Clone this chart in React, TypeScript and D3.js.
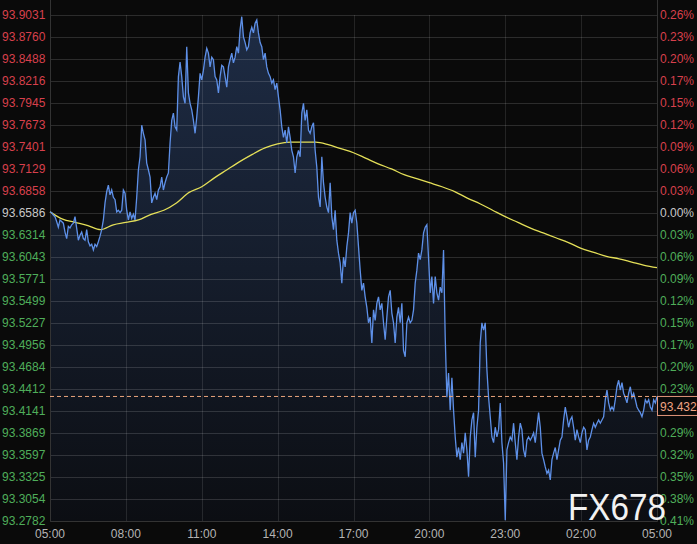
import React, { useEffect, useRef } from "react";
import * as d3 from "d3";

// session start, the chart covers 24 hours from here
const startTime = new Date(2021, 5, 1, 5, 0);

const timeLabels = ["05:00", "08:00", "11:00", "14:00", "17:00", "20:00", "23:00", "02:00", "05:00"];

const priceTicks = [
  "93.9031", "93.8760", "93.8488", "93.8216", "93.7945", "93.7673", "93.7401", "93.7129",
  "93.6858", "93.6586", "93.6314", "93.6043", "93.5771", "93.5499", "93.5227", "93.4956",
  "93.4684", "93.4412", "93.4141", "93.3869", "93.3597", "93.3325", "93.3054", "93.2782",
];

const pctTicks = [
  "0.26%", "0.23%", "0.20%", "0.17%", "0.15%", "0.12%", "0.09%", "0.06%",
  "0.03%", "0.00%", "0.03%", "0.06%", "0.09%", "0.12%", "0.15%", "0.17%",
  "0.20%", "0.23%", "0.26%", "0.29%", "0.32%", "0.35%", "0.38%", "0.41%",
];

const basePrice = 93.6586;
const lastPrice = 93.432;

// price, sampled evenly across the session
const prices = [
  93.660, 93.659, 93.656, 93.654, 93.648, 93.641, 93.650, 93.648, 93.646, 93.635,
  93.627, 93.642, 93.640, 93.644, 93.646, 93.654, 93.640, 93.625, 93.631, 93.635,
  93.627, 93.625, 93.638, 93.623, 93.618, 93.620, 93.613, 93.620, 93.617, 93.623,
  93.630, 93.638, 93.650, 93.671, 93.685, 93.693, 93.681, 93.687, 93.678, 93.675,
  93.660, 93.662, 93.659, 93.662, 93.687, 93.683, 93.662, 93.650, 93.660, 93.652,
  93.657, 93.650, 93.678, 93.712, 93.728, 93.767, 93.757, 93.749, 93.720, 93.712,
  93.703, 93.671, 93.678, 93.683, 93.675, 93.687, 93.691, 93.703, 93.687, 93.696,
  93.703, 93.708,
  93.745, 93.773, 93.782, 93.765, 93.761, 93.827, 93.845, 93.827, 93.802, 93.794,
  93.864, 93.807, 93.794, 93.786, 93.773, 93.757, 93.777, 93.802, 93.831, 93.823,
  93.835, 93.851, 93.862, 93.856, 93.839, 93.851, 93.848, 93.827, 93.823, 93.807,
  93.827, 93.841, 93.839, 93.827, 93.814, 93.839, 93.848, 93.856, 93.844, 93.851,
  93.864, 93.856, 93.885, 93.901, 93.876, 93.869, 93.860, 93.864, 93.881, 93.888,
  93.881, 93.893, 93.897, 93.881, 93.869, 93.864, 93.848, 93.856, 93.839, 93.831,
  93.827, 93.819, 93.823, 93.811, 93.819, 93.802, 93.786, 93.765, 93.752, 93.761,
  93.745, 93.765, 93.752,
  93.736, 93.728, 93.708, 93.728, 93.736, 93.728, 93.782, 93.794, 93.773, 93.786,
  93.761, 93.757, 93.765, 93.770, 93.736, 93.715, 93.678, 93.666, 93.728, 93.696,
  93.678, 93.666, 93.659, 93.696, 93.654, 93.638, 93.662, 93.625, 93.609, 93.597,
  93.572, 93.604, 93.592, 93.617, 93.634, 93.659, 93.646, 93.659, 93.662, 93.646,
  93.617, 93.588, 93.563, 93.572, 93.555, 93.542, 93.523, 93.530, 93.498, 93.539,
  93.526, 93.547, 93.555, 93.539, 93.547, 93.523, 93.502, 93.530, 93.555, 93.563,
  93.535, 93.523, 93.498, 93.530, 93.542, 93.523, 93.547, 93.489, 93.481, 93.523,
  93.530, 93.523,
  93.526, 93.539, 93.572, 93.588, 93.609, 93.601, 93.613, 93.634, 93.641, 93.644,
  93.603, 93.560, 93.580, 93.547, 93.580, 93.560, 93.551, 93.567, 93.560, 93.613,
  93.505, 93.431, 93.461, 93.415, 93.455, 93.415, 93.382, 93.357, 93.369, 93.354,
  93.375, 93.362, 93.387, 93.366, 93.333, 93.382, 93.403, 93.412, 93.357, 93.394,
  93.415, 93.498, 93.523, 93.514, 93.523, 93.465, 93.431, 93.407, 93.382, 93.375,
  93.394, 93.382, 93.391, 93.424, 93.375, 93.350, 93.279, 93.366, 93.375, 93.382,
  93.378, 93.399, 93.375, 93.354, 93.382, 93.399, 93.391, 93.366, 93.357, 93.378,
  93.382,
  93.378, 93.382, 93.387, 93.375, 93.394, 93.412, 93.394, 93.362, 93.354, 93.345,
  93.337, 93.341, 93.329, 93.354, 93.362, 93.369, 93.354, 93.366, 93.378, 93.382,
  93.403, 93.419, 93.407, 93.394, 93.403, 93.407, 93.394, 93.378, 93.391, 93.382,
  93.375, 93.387, 93.394, 93.391, 93.366, 93.378, 93.382, 93.391, 93.399, 93.394,
  93.399, 93.403, 93.399, 93.403, 93.407, 93.428, 93.440, 93.424, 93.415, 93.419,
  93.415, 93.428, 93.444, 93.452, 93.440, 93.449, 93.436, 93.431, 93.424, 93.436,
  93.444, 93.431, 93.436, 93.428, 93.419, 93.415, 93.412, 93.407, 93.415, 93.428,
  93.424, 93.428, 93.419, 93.415, 93.428, 93.424, 93.432,
];

// moving average, one value every 30 minutes
const movingAvg = [
  93.660, 93.651, 93.647, 93.643, 93.638, 93.644, 93.647, 93.650, 93.657, 93.662,
  93.671, 93.684, 93.691, 93.702, 93.712, 93.722, 93.731, 93.739, 93.744, 93.746,
  93.746, 93.746, 93.743, 93.738, 93.733, 93.726, 93.719, 93.713, 93.706, 93.701,
  93.696, 93.691, 93.685, 93.677, 93.670, 93.662, 93.654, 93.647, 93.640, 93.634,
  93.628, 93.622, 93.615, 93.610, 93.605, 93.602, 93.598, 93.594, 93.591,
];

const W = 697;
const H = 544;
const plot = { left: 50, right: 657, top: 15, bottom: 521 };
const FONT = "'Liberation Sans', Arial, sans-serif";
const TAG_H = 19;

const PriceChart = () => {
  const ref = useRef<SVGSVGElement>(null);

  useEffect(() => {
    const svg = d3.select(ref.current);
    svg.selectAll("*").remove();

    const endTime = d3.timeHour.offset(startTime, 24);
    const x = d3.scaleTime().domain([startTime, endTime]).range([plot.left, plot.right]);
    const y = d3
      .scaleLinear()
      .domain([+priceTicks[priceTicks.length - 1], +priceTicks[0]])
      .range([plot.bottom, plot.top]);

    const step = (24 * 60) / (prices.length - 1);
    const pts = prices.map((v, i) => ({ t: new Date(startTime.getTime() + i * step * 60000), v }));
    const maPts = movingAvg.map((v, i) => ({ t: d3.timeMinute.offset(startTime, i * 30), v }));

    svg.append("rect").attr("width", W).attr("height", H).attr("fill", "#0a0a0a");

    const grad = svg
      .append("defs")
      .append("linearGradient")
      .attr("id", "areaFill")
      .attr("gradientUnits", "userSpaceOnUse")
      .attr("x1", 0)
      .attr("y1", plot.top)
      .attr("x2", 0)
      .attr("y2", plot.bottom);
    grad.append("stop").attr("offset", 0).attr("stop-color", "#1e2c45");
    grad.append("stop").attr("offset", 1).attr("stop-color", "#0c0e13");

    // area under the price
    const area = d3
      .area<{ t: Date; v: number }>()
      .x((d) => x(d.t))
      .y0(plot.bottom)
      .y1((d) => y(d.v));
    svg.append("path").datum(pts).attr("d", area).attr("fill", "url(#areaFill)");

    // grid
    svg
      .append("g")
      .selectAll("line")
      .data(priceTicks)
      .enter()
      .append("line")
      .attr("x1", plot.left)
      .attr("x2", plot.right)
      .attr("y1", (d) => Math.round(y(+d)) + 0.5)
      .attr("y2", (d) => Math.round(y(+d)) + 0.5)
      .attr("stroke", "rgba(255,255,255,0.14)");

    const hourTicks = timeLabels.map((_, i) => d3.timeHour.offset(startTime, i * 3));
    svg
      .append("g")
      .selectAll("line")
      .data(hourTicks)
      .enter()
      .append("line")
      .attr("x1", (d) => Math.round(x(d)) + 0.5)
      .attr("x2", (d) => Math.round(x(d)) + 0.5)
      .attr("y1", plot.top)
      .attr("y2", plot.bottom)
      .attr("stroke", "rgba(255,255,255,0.11)");

    svg
      .append("path")
      .attr("d", `M${plot.left + 0.5},0V${plot.bottom + 0.5}H${plot.right + 0.5}V0`)
      .attr("fill", "none")
      .attr("stroke", "#333");

    // moving average + price
    const line = d3
      .line<{ t: Date; v: number }>()
      .x((d) => x(d.t))
      .y((d) => y(d.v));
    svg
      .append("path")
      .datum(maPts)
      .attr("d", line.curve(d3.curveMonotoneX))
      .attr("fill", "none")
      .attr("stroke", "#e4df58")
      .attr("stroke-width", 1.3);
    svg
      .append("path")
      .datum(pts)
      .attr("d", line.curve(d3.curveLinear))
      .attr("fill", "none")
      .attr("stroke", "#5e90e8")
      .attr("stroke-width", 1.3);

    // last price
    const tagY = y(lastPrice);
    svg
      .append("line")
      .attr("x1", plot.left)
      .attr("x2", plot.right)
      .attr("y1", tagY)
      .attr("y2", tagY)
      .attr("stroke", "#eaa47c")
      .attr("stroke-dasharray", "4,3");

    const tickColor = (v: number) =>
      Math.abs(v - basePrice) < 1e-6 ? "#c8c8c8" : v > basePrice ? "#d8404c" : "#4fae5a";

    svg
      .append("g")
      .selectAll("text")
      .data(priceTicks)
      .enter()
      .append("text")
      .attr("x", 2)
      .attr("y", (d) => y(+d))
      .attr("dy", "0.36em")
      .attr("fill", (d) => tickColor(+d))
      .style("font", `12px ${FONT}`)
      .text((d) => d);

    // percent labels, the one under the price tag is hidden like on the original
    const pctRows = pctTicks
      .map((label, i) => ({ label, v: +priceTicks[i] }))
      .filter((d) => {
        const py = y(d.v);
        return py < tagY - 2 || py > tagY + TAG_H + 2;
      });
    svg
      .append("g")
      .selectAll("text")
      .data(pctRows)
      .enter()
      .append("text")
      .attr("x", 660)
      .attr("y", (d) => y(d.v))
      .attr("dy", "0.36em")
      .attr("fill", (d) => tickColor(d.v))
      .style("font", `12px ${FONT}`)
      .text((d) => d.label);

    svg
      .append("g")
      .selectAll("text")
      .data(timeLabels)
      .enter()
      .append("text")
      .attr("x", (d, i) => x(hourTicks[i]))
      .attr("y", 534)
      .attr("dy", "0.36em")
      .attr("text-anchor", "middle")
      .attr("fill", "#b4b4b4")
      .style("font", `12px ${FONT}`)
      .text((d) => d);

    // price tag on the right axis
    svg
      .append("rect")
      .attr("x", plot.right + 0.5)
      .attr("y", tagY)
      .attr("width", 45)
      .attr("height", TAG_H)
      .attr("fill", "#0a0a0a")
      .attr("stroke", "#e0957a");
    svg
      .append("text")
      .attr("x", 660)
      .attr("y", tagY + 10)
      .attr("dy", "0.36em")
      .attr("fill", "#f0a383")
      .style("font", `12px ${FONT}`)
      .text(lastPrice.toFixed(3));

    // watermark
    svg
      .append("text")
      .attr("x", 568)
      .attr("y", 520)
      .attr("fill", "#f2f2f2")
      .attr("textLength", 98)
      .attr("lengthAdjust", "spacingAndGlyphs")
      .style("font", `36px ${FONT}`)
      .text("FX678");
  }, []);

  return (
    <svg
      ref={ref}
      width={W}
      height={H}
      style={{ position: "absolute", left: 0, top: 0, display: "block" }}
    />
  );
};

export default function App() {
  return <PriceChart />;
}
